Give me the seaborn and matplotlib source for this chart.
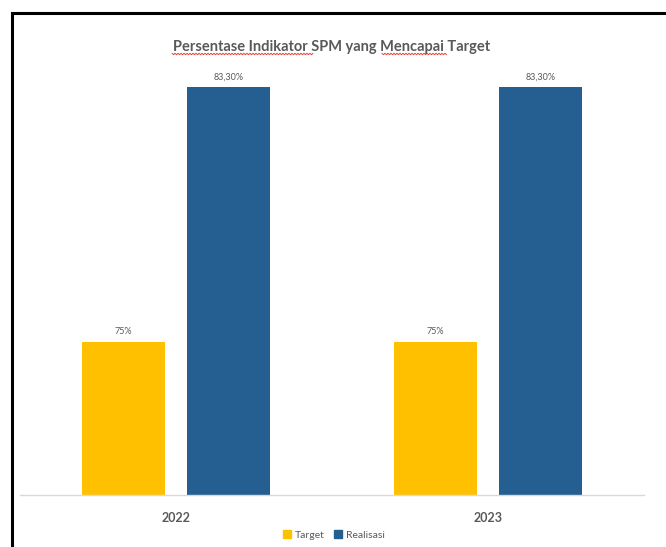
import matplotlib
matplotlib.use("Agg")
import matplotlib.pyplot as plt
import seaborn as sns
import pandas as pd
import numpy as np
from matplotlib.patches import Rectangle
from matplotlib.lines import Line2D

years = ["2022", "2023"]
series = ["Target", "Realisasi"]
target = [75, 75]
realisasi = [83.3, 83.3]
colors = ["#FFC000", "#255E91"]
title = "Persentase Indikator SPM yang Mencapai Target"

def fmt(v):
    if float(v).is_integer():
        return f"{int(v)}%"
    return f"{v:.2f}".replace(".", ",") + "%"

df = pd.DataFrame({
    "Tahun": years * 2,
    "Seri": [series[0]] * len(years) + [series[1]] * len(years),
    "Nilai": target + realisasi,
})

sns.set_theme(style="white")
plt.rcParams["font.family"] = ["Lato", "DejaVu Sans"]
grey = "#595959"

W, H = 666, 547
fig = plt.figure(figsize=(6.66, 5.47), dpi=100)
ax = fig.add_axes([20/W, 1-495/H, 624/W, (495-35)/H])

sns.barplot(data=df, x="Tahun", y="Nilai", hue="Seri", order=years, hue_order=series,
            palette=colors, width=0.672, gap=0.21, ax=ax, legend=False, saturation=1,
            edgecolor="none")

ax.set_ylim(70, 85)
ax.set_xlim(-0.5, 1.5)
for c, vals in zip(ax.containers, [target, realisasi]):
    ax.bar_label(c, labels=[fmt(v) for v in vals], padding=4, fontsize=6.5, color=grey)

for s in ["top", "right", "left"]:
    ax.spines[s].set_visible(False)
ax.spines["bottom"].set_color("#D9D9D9")
ax.spines["bottom"].set_linewidth(1)
ax.set_yticks([])
ax.set_xlabel("")
ax.set_ylabel("")
ax.tick_params(axis="x", length=0, pad=12, labelsize=9, labelcolor=grey)
for t in ax.get_xticklabels():
    t.set_fontweight("bold")

fig.text(332/W, 1-47/H, title, ha="center", va="center", fontsize=10.5,
         fontweight="bold", color=grey)

# spell-check squiggles under title words
for x0, x1 in [(172, 313), (382, 447)]:
    xs = np.arange(x0, x1 + 0.1, 1.5)
    ys = 54 + np.where(np.arange(len(xs)) % 2 == 0, -0.7, 0.7)
    fig.add_artist(Line2D(xs / W, 1 - ys / H, transform=fig.transFigure,
                          color="#E8403A", linewidth=0.7))

handles = [Line2D([0], [0], marker="s", linestyle="none", markersize=6,
                  markerfacecolor=col, markeredgecolor=col) for col in colors]
fig.legend(handles, series, loc="center", bbox_to_anchor=(334/W, 1-535/H),
           ncol=2, frameon=False, fontsize=7.5, handlelength=0.8, handletextpad=0.35,
           columnspacing=0.9, labelcolor=grey)

frame = Rectangle((11.5/W, -0.1), 1.2, (H-13)/H + 0.1, transform=fig.transFigure,
                  fill=False, edgecolor="black", linewidth=2.2, clip_on=False)
fig.patches.append(frame)

fig.savefig("out.png", dpi=100, facecolor="white")
